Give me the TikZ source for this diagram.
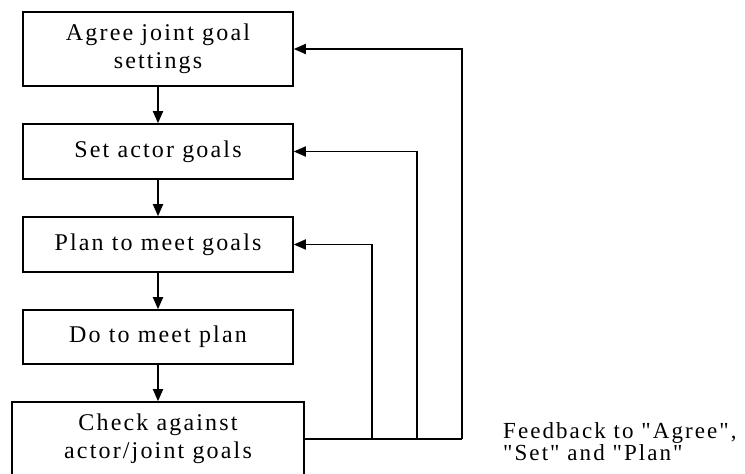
\documentclass[tikz,border=0pt]{standalone}
\usepackage{fontspec}
\setmainfont{Liberation Serif}[LetterSpace=9,Ligatures=TeXOff]
\usetikzlibrary{arrows.meta}
\begin{document}
\begin{tikzpicture}[x=1pt,y=-1pt,
  stage/.style={draw,line width=1.6pt,minimum width=270pt,inner sep=0pt,
    align=center,font=\fontsize{24}{28}\selectfont},
  flow/.style={line width=1.8pt,-{Triangle[length=12pt,width=10pt]}},
  fb/.style={line width=1.8pt}]
\useasboundingbox (0,0) rectangle (745,474);
\clip (0,0) rectangle (745,474);

% process stages
\node[stage,minimum height=74pt] (agree) at (158,49) {Agree joint goal\\settings};
\node[stage,minimum height=55pt] (set)   at (158,151.5) {Set actor goals};
\node[stage,minimum height=55pt] (plan)  at (158,244.5) {Plan to meet goals};
\node[stage,minimum height=54pt] (do)    at (158,337) {Do to meet plan};
\node[stage,minimum width=292pt,minimum height=74pt] (check) at (158,439) {Check against\\actor/joint goals};

% forward flow
\draw[flow] (agree) -- (set);
\draw[flow] (set) -- (plan);
\draw[flow] (plan) -- (do);
\draw[flow] (do) -- (check);

% feedback loops
\coordinate (j1) at (372,439);
\coordinate (j2) at (417,439);
\coordinate (j3) at (462,439);
\draw[fb] (check.east) -- (j3);
\draw[flow] (j1) |- (plan.east);
\draw[flow] (j2) |- (set.east);
\draw[flow] (j3) |- (agree.east);

\node[anchor=base west,inner sep=0pt,align=left,
  font=\fontsize{23}{20}\selectfont] (lbl) at (503,460)
  {Feedback to "Agree",\\"Set" and "Plan"};
\end{tikzpicture}
\end{document}
